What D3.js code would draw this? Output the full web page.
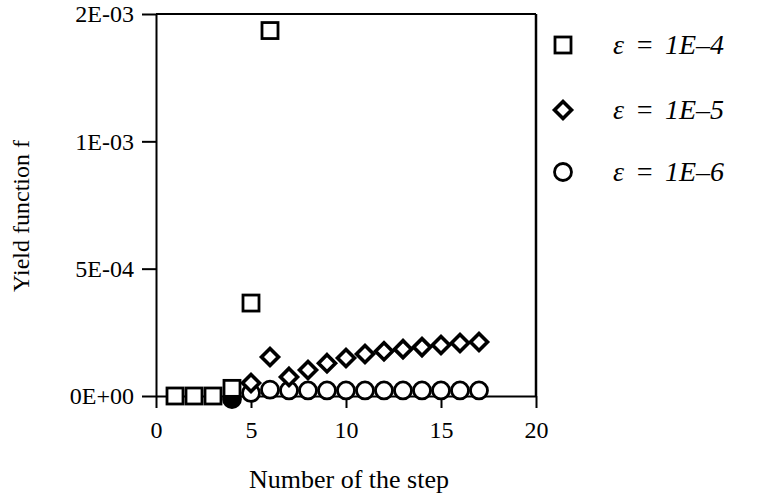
<!DOCTYPE html>
<html>
<head>
<meta charset="utf-8">
<script src="https://cdn.jsdelivr.net/npm/d3@7"></script>
<style>
  body { margin: 0; background: #fff; }
  svg { font-family: "Liberation Serif", "Times New Roman", serif; }
</style>
</head>
<body>
<script>
// step numbers and yield function values for each tolerance
var steps4 = [1, 2, 3, 4, 5, 6];
var yield4 = [0, 0, 0, 3e-5, 3.65e-4, 1.435e-3];

var steps5 = [5, 6, 7, 8, 9, 10, 11, 12, 13, 14, 15, 16, 17];
var yield5 = [5.1e-5, 1.53e-4, 7.5e-5, 1.02e-4, 1.29e-4, 1.49e-4, 1.65e-4, 1.76e-4, 1.84e-4, 1.92e-4, 2.0e-4, 2.08e-4, 2.12e-4];

var steps6 = [4, 5, 6, 7, 8, 9, 10, 11, 12, 13, 14, 15, 16, 17];
var yield6 = [-1.2e-5, 1.2e-5, 2.5e-5, 2.2e-5, 2.2e-5, 2.2e-5, 2.2e-5, 2.2e-5, 2.2e-5, 2.2e-5, 2.2e-5, 2.2e-5, 2.2e-5, 2.2e-5];

var xTicks = [0, 5, 10, 15, 20];
var yTicks = [0, 5e-4, 1e-3, 1.5e-3];
var yTickLabels = ['0E+00', '5E-04', '1E-03', '2E-03'];
var legendLabels = ['\u03b5 = 1E\u20134', '\u03b5 = 1E\u20135', '\u03b5 = 1E\u20136'];

var width = 763, height = 501;
var svg = d3.select('body').append('svg')
            .attr('width', width)
            .attr('height', height);

var xScale = d3.scaleLinear().domain([0, 20]).range([156, 536]);
var yScale = d3.scaleLinear().domain([0, 1.5e-3]).range([396, 14]);

// axes
var xAxis = d3.axisBottom(xScale).tickValues(xTicks).tickSize(12).tickSizeOuter(0).tickPadding(13);
var yAxis = d3.axisLeft(yScale).tickValues(yTicks).tickSize(14).tickSizeOuter(0).tickPadding(8)
              .tickFormat(function(d, i){ return yTickLabels[i]; });

var gx = svg.append('g').attr('transform', 'translate(0,' + yScale(0) + ')').call(xAxis);
var gy = svg.append('g').attr('transform', 'translate(' + xScale(0) + ',0)').call(yAxis);

[gx, gy].forEach(function(g){
  g.selectAll('path, line').attr('stroke', '#000').attr('stroke-width', 2);
  g.selectAll('text').attr('font-size', 24).attr('fill', '#000')
   .attr('font-family', '"Liberation Serif", serif');
});

// box: top and right sides
svg.append('line')
   .attr('x1', xScale(0)).attr('x2', xScale(20))
   .attr('y1', yScale(1.5e-3)).attr('y2', yScale(1.5e-3))
   .attr('stroke', '#000').attr('stroke-width', 2);
svg.append('line')
   .attr('x1', xScale(20)).attr('x2', xScale(20))
   .attr('y1', yScale(1.5e-3)).attr('y2', yScale(0))
   .attr('stroke', '#000').attr('stroke-width', 2.5);

// titles
svg.append('text')
   .attr('x', 349).attr('y', 488)
   .attr('text-anchor', 'middle')
   .attr('font-size', 26)
   .text('Number of the step');
svg.append('text')
   .attr('transform', 'translate(29,216) rotate(-90)')
   .attr('text-anchor', 'middle')
   .attr('font-size', 24)
   .text('Yield function f');

var plot = svg.append('g');

// markers
var drawCircle = function(g, x, y, filled){
  g.append('circle').attr('cx', x).attr('cy', y).attr('r', 8.5)
   .attr('fill', filled ? '#000' : '#fff').attr('stroke', '#000').attr('stroke-width', 2.8);
};
var drawDiamond = function(g, x, y){
  g.append('path')
   .attr('d', 'M' + x + ',' + (y - 8.5) + 'L' + (x + 8.5) + ',' + y + 'L' + x + ',' + (y + 8.5) + 'L' + (x - 8.5) + ',' + y + 'Z')
   .attr('fill', '#fff').attr('stroke', '#000').attr('stroke-width', 3.6);
};
var drawSquare = function(g, x, y){
  g.append('rect').attr('x', x - 8).attr('y', y - 8).attr('width', 16).attr('height', 16)
   .attr('fill', '#fff').attr('stroke', '#000').attr('stroke-width', 2.8);
};

steps6.forEach(function(s, i){
  drawCircle(plot, xScale(s), yScale(yield6[i]), s === 4);
});
steps5.forEach(function(s, i){
  drawDiamond(plot, xScale(s), yScale(yield5[i]));
});
steps4.forEach(function(s, i){
  drawSquare(plot, xScale(s), yScale(yield4[i]));
});

// legend
var legend = svg.append('g');
var legendY = [45, 110, 172];
legendLabels.forEach(function(label, i){
  if (i === 0) drawSquare(legend, 563, legendY[i]);
  if (i === 1) drawDiamond(legend, 563, legendY[i]);
  if (i === 2) drawCircle(legend, 563, legendY[i], false);
  legend.append('text')
        .attr('x', 613).attr('y', legendY[i] + 9)
        .attr('font-size', 28)
        .attr('font-style', 'italic')
        .attr('word-spacing', 4)
        .text(label);
});
</script>
</body>
</html>
